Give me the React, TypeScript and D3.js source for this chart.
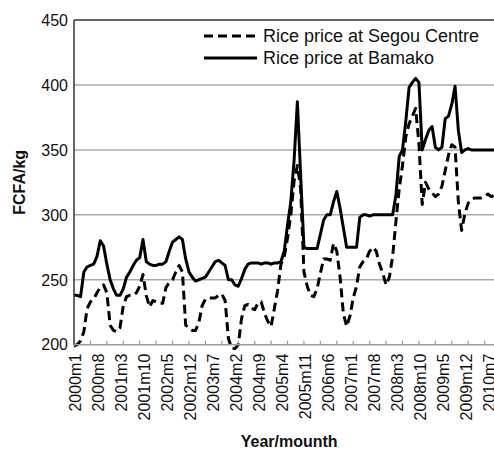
import * as d3 from "d3";
import { useEffect, useRef } from "react";

// monthly prices, 2000m1 .. 2010m12 (FCFA/kg)
const segou = [
  199, 200, 203, 210, 228, 233, 235, 240, 244, 246, 240, 215,
  211, 210, 213, 230, 237, 238, 238, 240, 245, 254, 238, 229,
  234, 233, 232, 232, 244, 248, 250, 256, 261, 256, 215, 213,
  211, 211, 217, 230, 235, 236, 236, 236, 238, 239, 234, 205,
  197, 197, 200, 220, 230, 231, 228, 227, 232, 233, 224, 218,
  214, 228, 242, 262, 268, 282, 300, 326, 338, 320, 256, 245,
  238, 237, 243, 255, 266, 266, 265, 278, 272, 252, 224, 214,
  222, 236, 245, 260, 264, 266, 272, 275, 272, 262, 255, 246,
  252, 268, 295, 320, 338, 360, 370, 376, 382, 355, 308, 325,
  320, 317, 314, 316, 322, 334, 346, 354, 352, 310, 288, 301,
  309, 312, 313, 313, 313, 314, 316, 314, 315, 316, 316, 316,
];

const bamako = [
  238, 238, 237, 256, 260, 261, 262, 268, 280, 276, 262, 250,
  243, 238, 238, 243, 252, 256, 261, 265, 267, 281, 264, 262,
  261, 261, 262, 262, 264, 272, 279, 281, 283, 281, 266, 256,
  252, 249, 250, 251, 252, 256, 260, 264, 265, 263, 261, 250,
  250, 246, 245, 251, 258, 262, 263, 263, 263, 262, 263, 263,
  262, 263, 263, 264, 272, 292, 310, 342, 387, 330, 275, 274,
  274, 274, 274, 285, 296, 300, 300, 310, 318, 305, 290, 275,
  275, 275, 275, 298, 300, 300, 299, 300, 300, 300, 300, 300,
  300, 300, 315, 345, 350, 372, 398, 402, 405, 402, 350, 358,
  365, 368, 352, 350, 352, 374, 376, 385, 399, 365, 348, 350,
  351, 350, 350, 350, 350, 350, 350, 350, 350, 350, 350, 350,
];

const xLabels = [
  "2000m1", "2000m8", "2001m3", "2001m10", "2002m5", "2002m12", "2003m7",
  "2004m2", "2004m9", "2005m4", "2005m11", "2006m6", "2007m1", "2007m8",
  "2008m3", "2008m10", "2009m5", "2009m12", "2010m7",
];
const yTicks = [200, 250, 300, 350, 400, 450];

const series = [
  { name: "Rice price at Segou Centre", values: segou, dash: "9,5" },
  { name: "Rice price at Bamako", values: bamako, dash: null },
];

const font = "'Liberation Sans', Arial, sans-serif";

export default function App() {
  const ref = useRef<SVGSVGElement>(null);

  useEffect(() => {
    const svg = d3.select(ref.current);
    svg.selectAll("*").remove();

    const width = 494;
    const height = 450;
    const left = 74;
    const top = 20;
    const bottom = 344.7;
    const step = 3.285;

    const x = d3
      .scaleLinear()
      .domain([0, segou.length - 1])
      .range([left, left + (segou.length - 1) * step]);
    const y = d3.scaleLinear().domain([200, 450]).range([bottom, top]);

    svg.attr("width", width).attr("height", height);

    // gridlines
    svg
      .append("g")
      .selectAll("line")
      .data(yTicks.filter((t) => t > 200))
      .join("line")
      .attr("x1", left)
      .attr("x2", x.range()[1])
      .attr("y1", (d) => y(d))
      .attr("y2", (d) => y(d))
      .attr("stroke", (d) => (d === 450 ? "#333" : "#aaa"))
      .attr("stroke-width", 1.5);

    // y tick labels
    svg
      .append("g")
      .selectAll("text")
      .data(yTicks)
      .join("text")
      .attr("x", left - 6)
      .attr("y", (d) => y(d))
      .attr("dy", "0.36em")
      .attr("text-anchor", "end")
      .attr("font-family", font)
      .attr("font-size", 16)
      .attr("fill", "#111")
      .text((d) => d);

    // lines
    const line = d3
      .line<number>()
      .x((_, i) => x(i))
      .y((d) => y(d));

    series.forEach((s) => {
      svg
        .append("path")
        .attr("d", line(s.values))
        .attr("fill", "none")
        .attr("stroke", "#000")
        .attr("stroke-width", 3)
        .attr("stroke-linejoin", "round")
        .attr("stroke-dasharray", s.dash);
    });

    // axes
    svg
      .append("line")
      .attr("x1", left)
      .attr("x2", left)
      .attr("y1", top)
      .attr("y2", bottom)
      .attr("stroke", "#333")
      .attr("stroke-width", 1.5);
    svg
      .append("line")
      .attr("x1", left)
      .attr("x2", x.range()[1])
      .attr("y1", bottom)
      .attr("y2", bottom)
      .attr("stroke", "#999")
      .attr("stroke-width", 1.5);

    svg
      .append("g")
      .selectAll("line")
      .data(d3.range(5, segou.length, 5))
      .join("line")
      .attr("x1", (d) => x(d))
      .attr("x2", (d) => x(d))
      .attr("y1", bottom)
      .attr("y2", bottom - 4)
      .attr("stroke", "#999")
      .attr("stroke-width", 1.2);

    // x tick labels (rotated)
    const monthIndex = (s: string) => {
      const [yr, m] = s.split("m").map(Number);
      return (yr - 2000) * 12 + m - 1;
    };
    svg
      .append("g")
      .selectAll("text")
      .data(xLabels)
      .join("text")
      .attr(
        "transform",
        (d) => `translate(${x(monthIndex(d)) + 1.5},${bottom + 9}) rotate(-90)`,
      )
      .attr("dy", "0.36em")
      .attr("text-anchor", "end")
      .attr("font-family", font)
      .attr("font-size", 16)
      .attr("fill", "#111")
      .text((d) => d);

    // axis titles
    svg
      .append("text")
      .attr("transform", `translate(25,${(top + bottom) / 2}) rotate(-90)`)
      .attr("text-anchor", "middle")
      .attr("font-family", font)
      .attr("font-size", 16)
      .attr("font-weight", "bold")
      .attr("fill", "#111")
      .text("FCFA/kg");

    svg
      .append("text")
      .attr("x", (left + x.range()[1]) / 2)
      .attr("y", 447)
      .attr("text-anchor", "middle")
      .attr("font-family", font)
      .attr("font-size", 16)
      .attr("font-weight", "bold")
      .attr("fill", "#111")
      .text("Year/mounth");

    // legend
    const legend = svg
      .append("g")
      .selectAll("g")
      .data(series)
      .join("g")
      .attr("transform", (_, i) => `translate(204,${36 + i * 22})`);
    legend
      .append("line")
      .attr("x1", 0)
      .attr("x2", 53)
      .attr("stroke", "#000")
      .attr("stroke-width", 3)
      .attr("stroke-dasharray", (d) => d.dash);
    legend
      .append("text")
      .attr("x", 59)
      .attr("dy", "0.36em")
      .attr("font-family", font)
      .attr("font-size", 18)
      .attr("fill", "#111")
      .text((d) => d.name);
  }, []);

  return (
    <svg
      ref={ref}
      style={{ position: "absolute", left: 0, top: 0, display: "block", background: "#fff" }}
    />
  );
}
